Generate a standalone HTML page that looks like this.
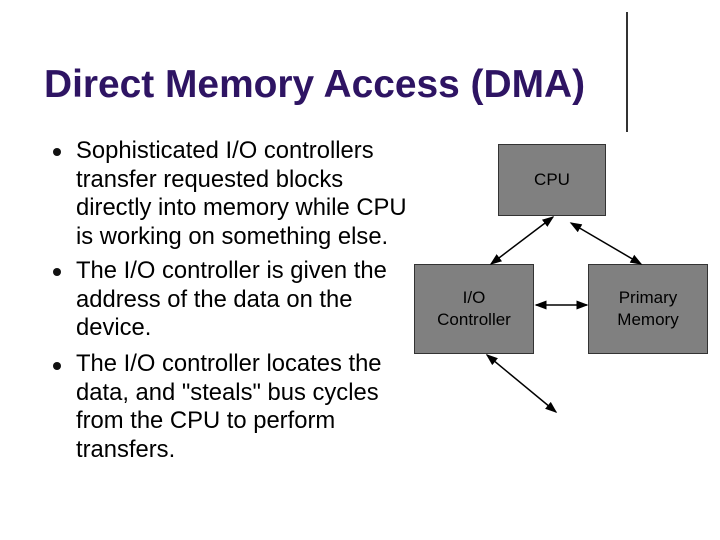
<!DOCTYPE html>
<html><head><style>
body{margin:0;width:720px;height:540px;background:#fff;position:relative;overflow:hidden;font-family:"Liberation Sans",Arial,sans-serif}
.t{position:absolute;left:44px;top:63px;font-size:38.9px;font-weight:bold;color:#2e1463;white-space:nowrap}
.b{position:absolute;left:76px;font-size:23.8px;line-height:28.7px;color:#000;white-space:nowrap}
.d{position:absolute;left:53px;width:8px;height:8px;border-radius:50%;background:#111}
.box{position:absolute;background:#808080;border:1px solid #333;box-sizing:border-box;display:flex;align-items:center;justify-content:center;text-align:center;font-size:17px;line-height:22px;color:#000}
</style></head><body>
<div class="t">Direct Memory Access (DMA)</div>
<div style="position:absolute;left:626px;top:12px;width:2px;height:120px;background:#333"></div>
<div class="d" style="top:148px"></div>
<div class="d" style="top:268px"></div>
<div class="d" style="top:362px"></div>
<div class="b" style="top:137px">Sophisticated I/O controllers<br>transfer requested blocks<br>directly into memory while CPU<br>is working on something else.</div>
<div class="b" style="top:257px">The I/O controller is given the<br>address of the data on the<br>device.</div>
<div class="b" style="top:350px">The I/O controller locates the<br>data, and "steals" bus cycles<br>from the CPU to perform<br>transfers.</div>
<div class="box" style="left:498px;top:144px;width:108px;height:72px">CPU</div>
<div class="box" style="left:414px;top:264px;width:120px;height:90px">I/O<br>Controller</div>
<div class="box" style="left:588px;top:264px;width:120px;height:90px">Primary<br>Memory</div>
<svg width="720" height="540" style="position:absolute;left:0;top:0">
<defs><marker id="a" markerWidth="8" markerHeight="8" refX="7" refY="4" orient="auto-start-reverse"><path d="M0,1 L8,4 L0,7z" fill="#000"/></marker></defs>
<g stroke="#000" stroke-width="1.5" marker-start="url(#a)" marker-end="url(#a)">
<line x1="553" y1="217" x2="491" y2="264"/>
<line x1="571" y1="223" x2="641" y2="264"/>
<line x1="536" y1="305" x2="587" y2="305"/>
<line x1="487" y1="355" x2="556" y2="412"/>
</g></svg>
</body></html>
